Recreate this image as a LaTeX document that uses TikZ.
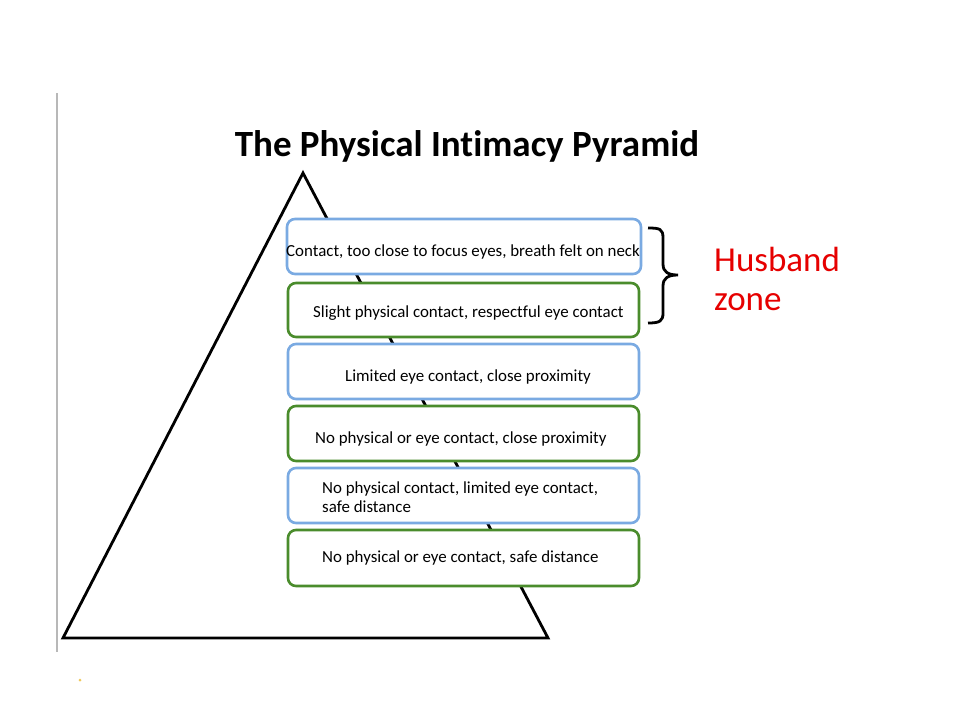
\documentclass[tikz,border=0pt]{standalone}
\usepackage{fontspec}
\setmainfont{Carlito}[Ligatures={NoCommon}]
\begin{document}
\begin{tikzpicture}[x=1pt,y=-1pt,
  bluebox/.style={draw=boxblue,line width=2.6pt,rounded corners=8pt,fill=white,minimum height=55pt,inner sep=0pt},
  greenbox/.style={draw=boxgreen,line width=2.6pt,rounded corners=8pt,fill=white,minimum height=55pt,inner sep=0pt},
  boxtext/.style={font=\fontsize{16.9}{19}\selectfont,inner sep=0pt,align=left},
  tri/.style={draw=black,line width=2.8pt,line join=miter}]
\definecolor{boxblue}{RGB}{122,170,226}
\definecolor{boxgreen}{RGB}{74,140,44}
\definecolor{husred}{RGB}{230,0,0}
\useasboundingbox (0,0) rectangle (960,720);
\fill[white] (0,0) rectangle (960,720);
% grey vertical line
\coordinate (gtop) at (57,93);
\coordinate (gbot) at (57,652);
\draw[draw=black!28,line width=1.8pt] (gtop) -- (gbot);
% small yellow dot
\fill[color={rgb,255:red,240;green,200;blue,90}] (80,680) circle (1.5pt);
% title
\node[font=\bfseries\fontsize{37}{42}\selectfont,anchor=base] (title) at (467,156) {The Physical Intimacy Pyramid};
% triangle
\coordinate (apex) at (303,173);
\coordinate (bl) at (63,638);
\coordinate (br) at (548,638);
\draw[tri] (apex) -- (bl) -- (br) -- cycle;
% boxes
\node[bluebox,minimum width=354pt] (b1) at (464,246.5) {};
\node[greenbox,minimum width=351pt,minimum height=54pt] (b2) at (463.5,310) {};
\node[bluebox,minimum width=351pt] (b3) at (463.5,371.5) {};
\node[greenbox,minimum width=351pt] (b4) at (463.5,433.5) {};
\node[bluebox,minimum width=351pt] (b5) at (463.5,495.5) {};
\node[greenbox,minimum width=351pt,minimum height=56pt] (b6) at (463.5,558) {};
% texts
\node[boxtext,anchor=base] (t1) at (463,256) {Contact, too close to focus eyes, breath felt on neck};
\node[boxtext,anchor=base west] (t2) at (313,317) {Slight physical contact, respectful eye contact};
\node[boxtext,anchor=base west] (t3) at (345,381) {Limited eye contact, close proximity};
\node[boxtext,anchor=base west] (t4) at (315,443) {No physical or eye contact, close proximity};
\node[boxtext,anchor=base west] (t5a) at (322,493) {No physical contact, limited eye contact,};
\node[boxtext,anchor=base west] (t5b) at (322,512) {safe distance};
\node[boxtext,anchor=base west] (t6) at (322,562) {No physical or eye contact, safe distance};
% brace
\coordinate (brtop) at (648,228);
\coordinate (brtip) at (678,275);
\coordinate (brbot) at (648,323);
\draw[line width=2.8pt,line cap=butt] (brtop) .. controls (660,228) and (663,229) .. (663,238)
  -- (663,264) .. controls (663,272) and (668,275) .. (brtip)
  .. controls (668,275) and (663,278) .. (663,286)
  -- (663,313) .. controls (663,321) and (660,323) .. (brbot);
% husband zone
\node[font=\fontsize{35}{39}\selectfont,text=husred,anchor=base west,inner sep=0pt] (hz1) at (714,271) {Husband};
\node[font=\fontsize{35}{39}\selectfont,text=husred,anchor=base west,inner sep=0pt] (hz2) at (714,310) {zone};
\end{tikzpicture}
\end{document}
